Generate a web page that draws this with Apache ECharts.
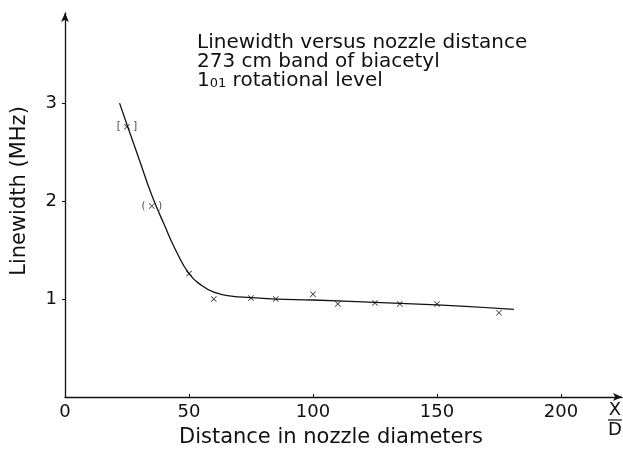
<!DOCTYPE html>
<html>
<head>
<meta charset="utf-8">
<script src="https://cdn.jsdelivr.net/npm/echarts@6/dist/echarts.min.js"></script>
<style>html,body{margin:0;padding:0;background:#fff;}#c{width:623px;height:453px;}</style>
</head>
<body>
<div id="c"></div>
<script>
// Measured points (X/D, linewidth MHz)
const pointsX = [25, 35, 50, 60, 75, 85, 100, 110, 125, 135, 150, 175];
const pointsY = [2.76, 1.95, 1.26, 1.0, 1.01, 1.0, 1.05, 0.95, 0.96, 0.95, 0.95, 0.86];
const bracketed = [true, true, false, false, false, false, false, false, false, false, false, false];
// Fitted curve
const curveX = [22, 25, 30, 35, 40, 45, 50, 55, 60, 67, 75, 85, 100, 125, 150, 181];
const curveY = [3.0, 2.78, 2.42, 2.06, 1.76, 1.48, 1.26, 1.14, 1.07, 1.03, 1.015, 1.0, 0.99, 0.965, 0.94, 0.895];
const xTicks = [0, 50, 100, 150, 200];
const yTicks = [1, 2, 3];
const titleLines = ['Linewidth versus nozzle distance', '273 cm band of biacetyl'];

const FONT = 'DejaVu Sans';
const chart = echarts.init(document.getElementById('c'), null, {renderer: 'canvas'});
const xSym = 'path://M0,1L1,0L5,4L9,0L10,1L6,5L10,9L9,10L5,6L1,10L0,9L4,5Z';

chart.setOption({
  animation: false,
  backgroundColor: '#fff',
  grid: {left: 65, right: 1, top: 13, bottom: 56, containLabel: false},
  xAxis: {
    type: 'value', min: 0, max: 224.6, interval: 50,
    axisLine: {show: true, lineStyle: {color: '#111', width: 1.3}, symbol: ['none', 'arrow'], symbolSize: [6, 9]},
    axisTick: {show: true, inside: true, length: 3, lineStyle: {color: '#111'}},
    splitLine: {show: false},
    axisLabel: {
      color: '#111', fontFamily: FONT, fontSize: 18, margin: 6,
      showMaxLabel: false,
      formatter: v => xTicks.includes(v) ? String(v) : ''
    }
  },
  yAxis: {
    type: 'value', min: 0, max: 3.92, interval: 1,
    axisLine: {show: true, lineStyle: {color: '#111', width: 1.3}, symbol: ['none', 'arrow'], symbolSize: [6, 9]},
    axisTick: {show: true, length: 3, lineStyle: {color: '#111'}},
    splitLine: {show: false},
    axisLabel: {
      color: '#111', fontFamily: FONT, fontSize: 18, margin: 8,
      showMinLabel: false, showMaxLabel: false,
      formatter: v => yTicks.includes(v) ? String(v) : ''
    }
  },
  series: [
    {
      type: 'line', smooth: 0.5, symbol: 'none',
      lineStyle: {color: '#111', width: 1.3},
      data: curveX.map((x, i) => [x, curveY[i]])
    },
    {
      type: 'scatter', symbol: xSym, symbolSize: 6,
      itemStyle: {color: '#111'},
      data: pointsX.map((x, i) => ({
        value: [x, pointsY[i]],
        label: {
          show: bracketed[i], position: 'inside', formatter: i === 0 ? '[    ]' : '(    )',
          color: '#111', fontSize: 10, fontFamily: FONT
        }
      }))
    }
  ],
  graphic: [
    {
      type: 'text', left: 197, top: 33,
      style: {
        text: titleLines.join('\n') + '\n{n|1}{s|01} rotational level',
        fill: '#111', font: '20px "' + FONT + '"', lineHeight: 19,
        rich: {
          n: {fontSize: 20, fontFamily: FONT, fill: '#111', lineHeight: 19},
          s: {fontSize: 13, fontFamily: FONT, fill: '#111', verticalAlign: 'bottom', padding: [8, 0, 0, 0], lineHeight: 19}
        }
      }
    },
    {
      type: 'text', x: 331, y: 438,
      style: {text: 'Distance in nozzle diameters', fill: '#111', font: '21px "' + FONT + '"', align: 'center', verticalAlign: 'middle'}
    },
    {
      type: 'text', x: 20, y: 191, rotation: Math.PI / 2,
      style: {text: 'Linewidth (MHz)', fill: '#111', font: '21px "' + FONT + '"', align: 'center', verticalAlign: 'middle'}
    },
    {
      type: 'group', x: 607, y: 401,
      children: [
        {type: 'text', x: 8, y: 9, style: {text: 'X', fill: '#111', font: '18px "' + FONT + '"', align: 'center', verticalAlign: 'middle'}},
        {type: 'line', shape: {x1: 1, y1: 19, x2: 15, y2: 19}, style: {stroke: '#111', lineWidth: 1.2}},
        {type: 'text', x: 8, y: 29, style: {text: 'D', fill: '#111', font: '18px "' + FONT + '"', align: 'center', verticalAlign: 'middle'}}
      ]
    }
  ]
});
</script>
</body>
</html>
